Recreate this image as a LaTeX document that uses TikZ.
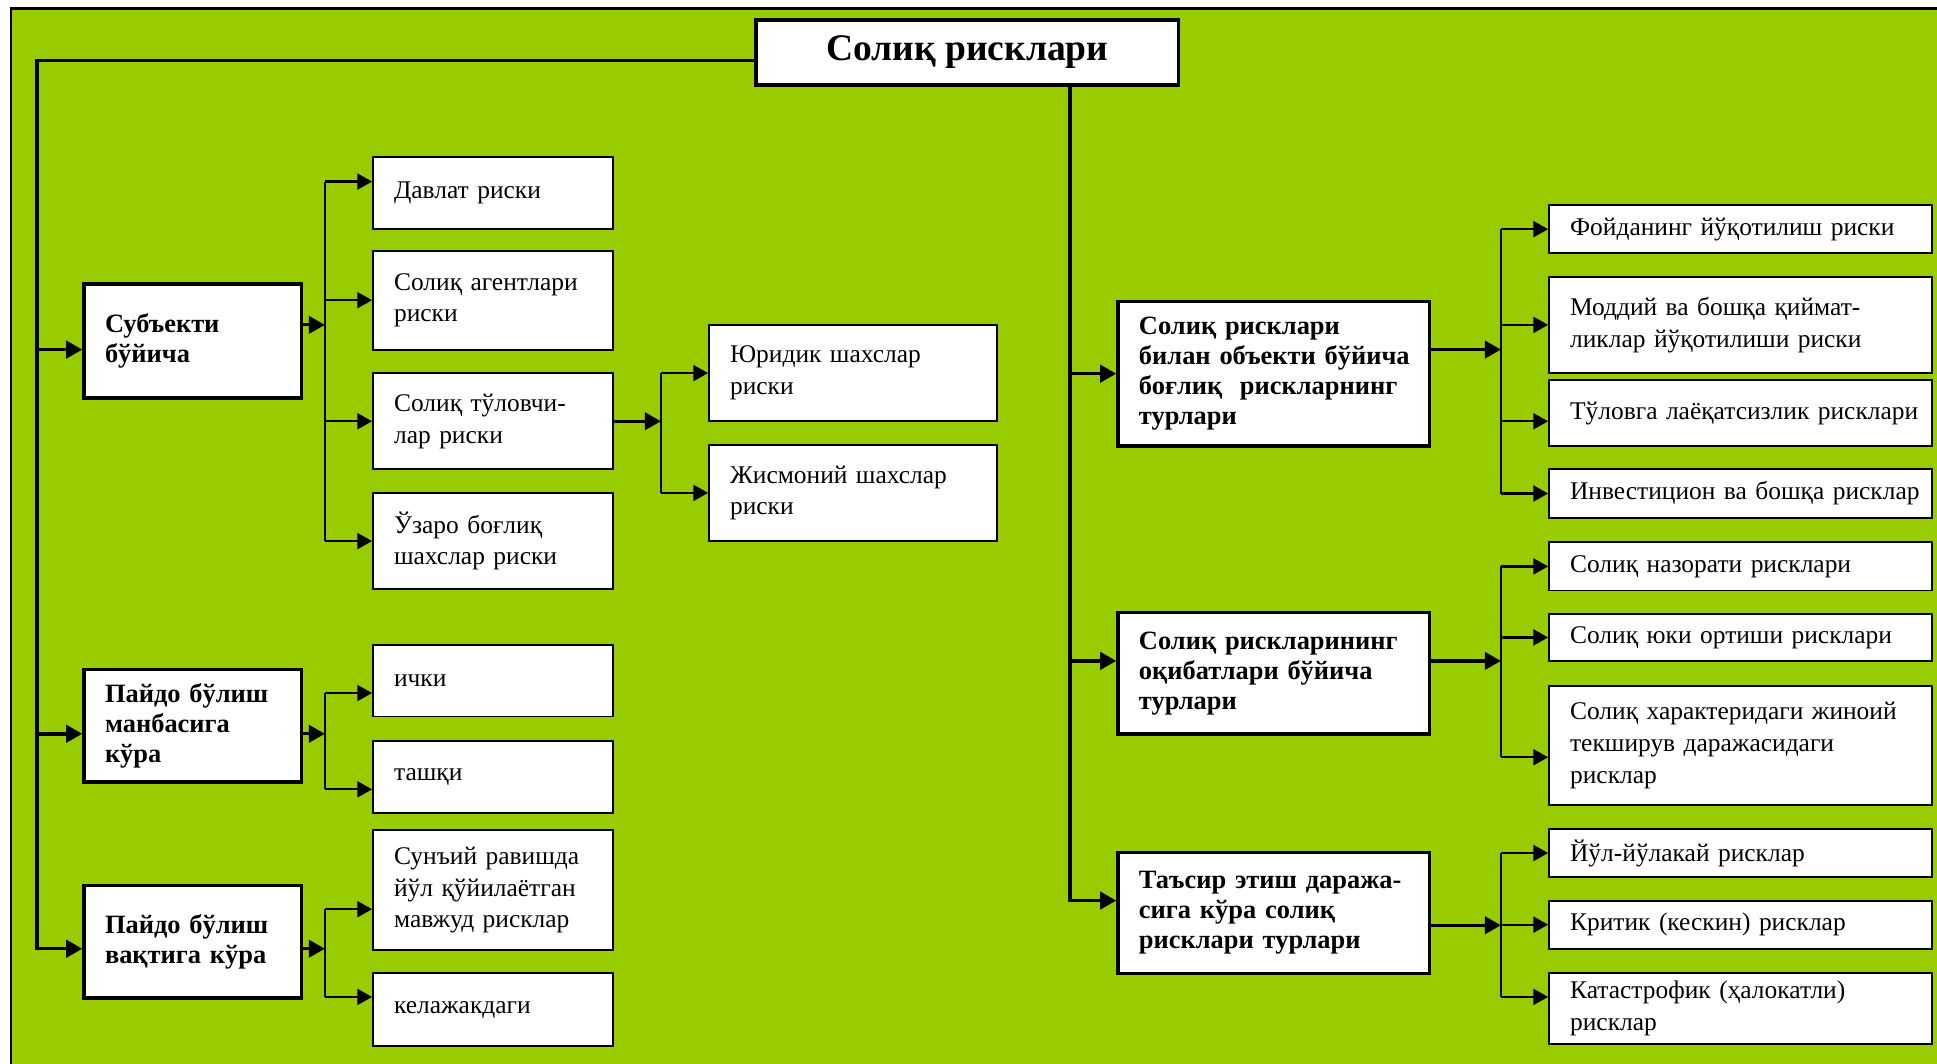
\documentclass[tikz,border=0pt]{standalone}
\usepackage{fontspec}
\setmainfont{Liberation Serif}
\usepackage{xcolor}
\usetikzlibrary{positioning,arrows.meta}

\definecolor{leafgreen}{RGB}{153,204,0}

\begin{document}
\begin{tikzpicture}[
				x=0.5pt, y=-0.5pt,
				font=\fontsize{10.3}{12.8}\selectfont,
				cell/.style={
					draw,
					fill=white,
					line width=0.8pt,
					inner xsep=3pt,
					inner ysep=2pt,
					execute at begin node={\raggedright\leftskip=5.5pt\relax}
				},
				leaf/.style={cell, text width=91pt},
				sub/.style={cell, text width=110.5pt},
				kind/.style={cell, text width=149pt},
				lhead/.style={cell, line width=1.4pt, text width=82pt, font=\fontsize{10.7}{12.2}\selectfont\bfseries},
				rhead/.style={cell, line width=1.4pt, text width=120pt, font=\fontsize{10.7}{12.2}\selectfont\bfseries},
				root/.style={
					draw,
					fill=white,
					line width=1.6pt,
					minimum width=171pt,
					minimum height=26.5pt,
					font=\fontsize{15.2}{18}\selectfont\bfseries
				},
				trunk/.style={line width=1.4pt, -{Triangle[length=6.5pt,width=7pt]}},
				feed/.style={line width=1.3pt, -{Triangle[length=6.5pt,width=7pt]}},
				bus/.style={line width=0.9pt},
				link/.style={line width=0.9pt, -{Triangle[length=6pt,width=6.5pt]}}
				]
				\useasboundingbox (0,0) rectangle (1568,861);
				\fill[leafgreen] (9,7) rectangle (1568,861);
				\draw[line width=1pt] (9,861) -- (9,7) -- (1568,7);

				\node[root] (root) at (783,42.5) {Солиқ рисклари};

				% left side
				\node[lhead, minimum height=46pt] (subj) at (156,276) {Субъекти\\бўйича};
				\node[lhead, minimum height=45.5pt] (source) at (156,587.5) {Пайдо бўлиш\\манбасига\\кўра};
				\node[lhead, minimum height=45.5pt] (time) at (156,762.5) {Пайдо бўлиш\\вақтига кўра};

				\node[leaf, minimum height=29pt] (davlat) at (399,156) {Давлат риски};
				\node[leaf, minimum height=40pt] (agent) at (399,243) {Солиқ агентлари\\риски};
				\node[leaf, minimum height=39pt] (payer) at (399,341) {Солиқ тўловчи-\\лар риски};
				\node[leaf, minimum height=39pt] (related) at (399,438) {Ўзаро боғлиқ\\шахслар риски};
				\node[sub, minimum height=39pt] (legal) at (690.5,302) {Юридик шахслар\\риски};
				\node[sub, minimum height=39pt] (person) at (690.5,399) {Жисмоний шахслар\\риски};
				\node[leaf, minimum height=29pt] (inner) at (399,551) {ички};
				\node[leaf, minimum height=29pt] (outer) at (399,629) {ташқи};
				\node[leaf, minimum height=48.5pt] (artif) at (399,720.5) {Сунъий равишда\\йўл қўйилаётган\\мавжуд рисклар};
				\node[leaf, minimum height=29.5pt] (future) at (399,817.5) {келажакдаги};

				% right side
				\node[rhead, minimum height=58.5pt] (object) at (1031,302.5) {Солиқ рисклари\\билан объекти бўйича\\боғлиқ\ \ рискларнинг\\турлари};
				\node[rhead, minimum height=49pt] (effect) at (1031,545) {Солиқ рискларининг\\оқибатлари бўйича\\турлари};
				\node[rhead, minimum height=49pt] (impact) at (1031,739) {Таъсир этиш даража-\\сига кўра солиқ\\рисклари турлари};

				\node[kind, minimum height=19.5pt] (profit) at (1409,185.5) {Фойданинг йўқотилиш риски};
				\node[kind, minimum height=39pt] (assets) at (1409,263) {Моддий ва бошқа қиймат-\\ликлар йўқотилиши риски};
				\node[kind, minimum height=26.5pt] (insolv) at (1409,334.5) {Тўловга лаёқатсизлик рисклари};
				\node[kind, minimum height=19.5pt] (invest) at (1409,399.5) {Инвестицион ва бошқа рисклар};
				\node[kind, minimum height=19.5pt] (control) at (1409,458.5) {Солиқ назорати рисклари};
				\node[kind, minimum height=19pt] (burden) at (1409,516) {Солиқ юки ортиши рисклари};
				\node[kind, minimum height=48.5pt] (crime) at (1409,603.5) {Солиқ характеридаги жиноий\\текширув даражасидаги\\рисклар};
				\node[kind, minimum height=19.5pt] (casual) at (1409,690.5) {Йўл-йўлакай рисклар};
				\node[kind, minimum height=19.5pt] (critic) at (1409,748.5) {Критик (кескин) рисклар};
				\node[kind, minimum height=28.5pt] (disaster) at (1409,816.5) {Катастрофик (ҳалокатли)\\рисклар};

				\coordinate (lt) at (30,0);
				\coordinate (rt) at (866,0);
				\coordinate (bl) at (263,0);
				\coordinate (bp) at (535,0);
				\coordinate (br) at (1215,0);

				% trunks
				\draw[trunk] ([yshift=-3.25pt]root.west) -| ([yshift=-2.75pt]time.west -| lt) -- ([yshift=-2.75pt]time.west);
				\draw[trunk] ([yshift=-3.5pt]subj.west -| lt) -- ([yshift=-3.5pt]subj.west);
				\draw[trunk] ([yshift=-3.25pt]source.west -| lt) -- ([yshift=-3.25pt]source.west);
				\draw[trunk] (root.south -| rt) -- ([yshift=5pt]impact.west -| rt) -- ([yshift=5pt]impact.west);
				\draw[trunk] (object.west -| rt) -- (object.west);
				\draw[trunk] ([yshift=5pt]effect.west -| rt) -- ([yshift=5pt]effect.west);

				% left groups
				\draw[feed] ([yshift=6.5pt]subj.east) -- ([yshift=6.5pt]subj.east -| bl);
				\draw[bus] ([yshift=4.5pt]davlat.west -| bl) -- (related.west -| bl);
				\foreach \n/\s in {davlat/4.5pt, agent/0pt, payer/0pt, related/0pt}
					\draw[link] ([yshift=\s]\n.west -| bl) -- ([yshift=\s]\n.west);

				\draw[feed] (payer.east) -- (payer.east -| bp);
				\draw[bus] (legal.west -| bp) -- (person.west -| bp);
				\foreach \n in {legal, person}
					\draw[link] (\n.west -| bp) -- (\n.west);

				\draw[feed] ([yshift=-3.25pt]source.east) -- ([yshift=-3.25pt]source.east -| bl);
				\draw[bus] ([yshift=-5pt]inner.west -| bl) -- ([yshift=-5pt]outer.west -| bl);
				\foreach \n in {inner, outer}
					\draw[link] ([yshift=-5pt]\n.west -| bl) -- ([yshift=-5pt]\n.west);

				\draw[feed] ([yshift=-2.75pt]time.east) -- ([yshift=-2.75pt]time.east -| bl);
				\draw[bus] ([yshift=-7.75pt]artif.west -| bl) -- ([yshift=5.25pt]future.west -| bl);
				\foreach \n/\s in {artif/-7.75pt, future/5.25pt}
					\draw[link] ([yshift=\s]\n.west -| bl) -- ([yshift=\s]\n.west);

				% right groups
				\draw[feed] ([yshift=9.75pt]object.east) -- ([yshift=9.75pt]object.east -| br);
				\draw[bus] (profit.west -| br) -- (invest.west -| br);
				\foreach \n/\s in {profit/0pt, assets/0pt, insolv/-3.25pt, invest/0pt}
					\draw[link] ([yshift=\s]\n.west -| br) -- ([yshift=\s]\n.west);

				\draw[feed] ([yshift=5pt]effect.east) -- ([yshift=5pt]effect.east -| br);
				\draw[bus] (control.west -| br) -- ([yshift=-4.75pt]crime.west -| br);
				\foreach \n/\s in {control/0pt, burden/0pt, crime/-4.75pt}
					\draw[link] ([yshift=\s]\n.west -| br) -- ([yshift=\s]\n.west);

				\draw[feed] ([yshift=-5pt]impact.east) -- ([yshift=-5pt]impact.east -| br);
				\draw[bus] (casual.west -| br) -- ([yshift=4.75pt]disaster.west -| br);
				\foreach \n/\s in {casual/0pt, critic/0pt, disaster/4.75pt}
					\draw[link] ([yshift=\s]\n.west -| br) -- ([yshift=\s]\n.west);
			\end{tikzpicture}
\end{document}
